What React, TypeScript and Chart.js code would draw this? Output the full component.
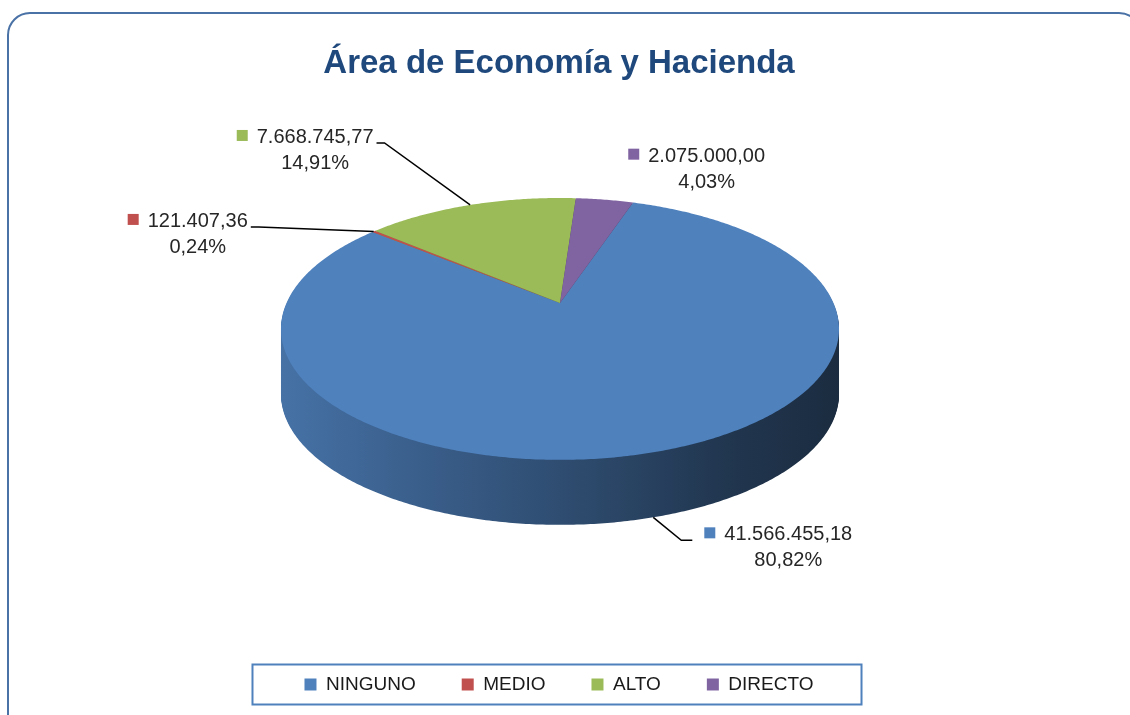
import React, { useEffect, useRef } from 'react';
import { Chart, registerables } from 'chart.js';

Chart.register(...registerables);

// ---- data ----
const CATEGORIES = ['NINGUNO', 'MEDIO', 'ALTO', 'DIRECTO'];
const VALUES = [41566455.18, 121407.36, 7668745.77, 2075000.0];
const COLORS = ['#4F81BD', '#C0504D', '#9BBB59', '#8064A2'];
const TITLE = 'Área de Economía y Hacienda';

// ---- layout / style ----
const FONT = "'Liberation Sans', Arial, sans-serif";
const PIE = { cx: 560, cy: 303, a: 273.5, c: 125.8, k: 0.198, depth: 65 };
const LABEL_OFFSETS = [
  { dx: 135, dy: 23, leader: true },
  { dx: -176, dy: -4.5, leader: true },
  { dx: -155, dy: -62, leader: true },
  { dx: 102, dy: -38, leader: false },
];
const SIDE_STOPS: [number, number][] = [
  [0, 0.88],
  [0.2, 0.76],
  [0.5, 0.6],
  [0.8, 0.42],
  [1, 0.34],
];

function fmtNum(v: number) {
  const [i, d] = v.toFixed(2).split('.');
  return i.replace(/\B(?=(\d{3})+(?!\d))/g, '.') + ',' + d;
}
function fmtPct(v: number) {
  return v.toFixed(2).replace('.', ',') + '%';
}
function shade(hex: string, f: number) {
  const n = parseInt(hex.slice(1), 16);
  const r = Math.round(((n >> 16) & 255) * f);
  const g = Math.round(((n >> 8) & 255) * f);
  const b = Math.round((n & 255) * f);
  return `rgb(${r},${g},${b})`;
}
function project(theta: number, dy = 0): [number, number] {
  const X = Math.cos(theta);
  const Y = Math.sin(theta);
  const D = 1 - PIE.k * Y;
  return [PIE.cx + (PIE.a * X) / D, PIE.cy + (PIE.c * Y) / D + dy];
}
function sectorPath(start: number, end: number) {
  const p = new Path2D();
  p.moveTo(PIE.cx, PIE.cy);
  const n = Math.max(2, Math.ceil((end - start) / 0.01));
  for (let i = 0; i <= n; i++) {
    const t = start + ((end - start) * i) / n;
    const [x, y] = project(t);
    p.lineTo(x, y);
  }
  p.closePath();
  return p;
}

const pie3d = {
  id: 'pie3d',
  beforeDraw(chart: any) {
    const ctx = chart.ctx as CanvasRenderingContext2D;
    // outer rounded frame
    ctx.save();
    ctx.strokeStyle = '#4A72A6';
    ctx.lineWidth = 2;
    const x0 = 8, y0 = 13, x1 = 1141, y1 = 740, r = 22;
    ctx.beginPath();
    ctx.moveTo(x0, y1);
    ctx.lineTo(x0, y0 + r);
    ctx.arcTo(x0, y0, x0 + r, y0, r);
    ctx.lineTo(x1 - r, y0);
    ctx.arcTo(x1, y0, x1, y0 + r, r);
    ctx.lineTo(x1, y1);
    ctx.stroke();
    ctx.restore();
  },
  beforeDatasetsDraw(chart: any) {
    const ctx = chart.ctx as CanvasRenderingContext2D;
    const meta = chart.getDatasetMeta(0);
    const half = PIE.a / Math.sqrt(1 - PIE.k * PIE.k);
    const L = PIE.cx - half;
    const R = PIE.cx + half;
    ctx.save();
    const paths: Path2D[] = [];
    meta.data.forEach((arc: any, i: number) => {
      const { startAngle, endAngle } = arc.getProps(['startAngle', 'endAngle'], true);
      const path = sectorPath(startAngle, endAngle);
      paths[i] = path;
      const base = COLORS[i];
      const g = ctx.createLinearGradient(L, 0, R, 0);
      SIDE_STOPS.forEach(([o, f]) => g.addColorStop(o, shade(base, f)));
      ctx.fillStyle = g;
      for (let d = PIE.depth; d >= 1; d--) {
        ctx.save();
        ctx.translate(0, d);
        ctx.fill(path);
        ctx.restore();
      }
    });
    meta.data.forEach((arc: any, i: number) => {
      ctx.fillStyle = arc.options.backgroundColor;
      ctx.fill(paths[i]);
    });
    ctx.restore();
    return false;
  },
  afterDraw(chart: any) {
    const ctx = chart.ctx as CanvasRenderingContext2D;
    const meta = chart.getDatasetMeta(0);
    const total = VALUES.reduce((s, v) => s + v, 0);
    ctx.save();
    ctx.font = `20px ${FONT}`;
    meta.data.forEach((arc: any, i: number) => {
      const { startAngle, endAngle } = arc.getProps(['startAngle', 'endAngle'], true);
      const mid = (startAngle + endAngle) / 2;
      let [ax, ay] = project(mid);
      if (Math.sin(mid) > PIE.k) ay += PIE.depth;
      const off = LABEL_OFFSETS[i];
      const tx = ax + off.dx;
      const by = ay + off.dy;
      const t1 = fmtNum(VALUES[i]);
      const t2 = fmtPct((VALUES[i] / total) * 100);
      const w1 = ctx.measureText(t1).width;
      const left = tx - w1 / 2;
      const right = tx + w1 / 2;
      // marker square
      ctx.fillStyle = COLORS[i];
      ctx.fillRect(left - 20, by - 13, 11, 11);
      // text
      ctx.fillStyle = '#262626';
      ctx.textAlign = 'center';
      ctx.textBaseline = 'alphabetic';
      ctx.fillText(t1, tx, by);
      ctx.fillText(t2, tx, by + 26);
      if (off.leader) {
        ctx.strokeStyle = '#000';
        ctx.lineWidth = 1.5;
        ctx.beginPath();
        ctx.moveTo(ax, ay);
        if (tx > ax) {
          const end = left - 32;
          ctx.lineTo(end - 11, by);
          ctx.lineTo(end, by);
        } else {
          const end = right + 3;
          ctx.lineTo(end + 8, by);
          ctx.lineTo(end, by);
        }
        ctx.stroke();
      }
    });
    // legend frame
    const lg = chart.legend;
    if (lg && lg.legendHitBoxes && lg.legendHitBoxes.length) {
      const hb = lg.legendHitBoxes;
      const minL = Math.min(...hb.map((h: any) => h.left));
      const maxR = Math.max(...hb.map((h: any) => h.left + h.width));
      const cy = hb[0].top + hb[0].height / 2;
      ctx.strokeStyle = '#4F81BD';
      ctx.lineWidth = 2;
      ctx.strokeRect(minL - 52, cy - 20, maxR - minL + 100, 40);
    }
    ctx.restore();
  },
};

export default function App() {
  const ref = useRef<HTMLCanvasElement>(null);
  useEffect(() => {
    document.body.style.margin = '0';
    const chart = new Chart(ref.current as HTMLCanvasElement, {
      type: 'pie',
      data: {
        labels: CATEGORIES,
        datasets: [
          {
            data: VALUES,
            backgroundColor: COLORS,
            borderWidth: 0,
          },
        ],
      },
      options: {
        animation: false,
        responsive: false,
        devicePixelRatio: 1,
        rotation: 18.5,
        layout: { padding: { bottom: 11, right: 12 } },
        plugins: {
          tooltip: { enabled: false },
          title: {
            display: true,
            text: TITLE,
            color: '#1F497D',
            font: { family: FONT, size: 33, weight: 'bold' },
            padding: { top: 44, bottom: 10 },
          },
          legend: {
            position: 'bottom',
            labels: {
              boxWidth: 12,
              boxHeight: 12,
              padding: 46,
              color: '#1a1a1a',
              font: { family: FONT, size: 19 },
            },
          },
        },
      },
      plugins: [pie3d],
    } as any);
    return () => chart.destroy();
  }, []);
  return (
    <div style={{ width: 1130, height: 715, background: '#fff' }}>
      <canvas ref={ref} width={1130} height={715} style={{ display: 'block' }} />
    </div>
  );
}
